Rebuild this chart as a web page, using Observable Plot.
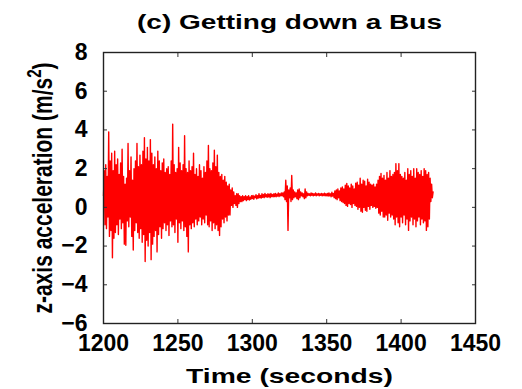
<!DOCTYPE html>
<html>
<head>
<meta charset="utf-8">
<script src="https://cdn.jsdelivr.net/npm/d3@7"></script>
<script src="https://cdn.jsdelivr.net/npm/@observablehq/plot@0.6"></script>
<style>
  html, body { margin: 0; padding: 0; background: #fff; }
  svg { font-family: "Liberation Sans", Arial, Helvetica, sans-serif; }
</style>
</head>
<body>
<script>
const titleText = "(c) Getting down a Bus";
const xLabelText = "Time (seconds)";
const yLabelMain = "z-axis acceleration (m/s";
const yLabelSup = "2";
const yLabelEnd = ")";
const xTicks = [1200, 1250, 1300, 1350, 1400, 1450];
const yTicks = [-6, -4, -2, 0, 2, 4, 6, 8];

// sampling: start time and interval (seconds)
const tStart = 1200;
const tStep = 0.5;

// z-axis acceleration samples (m/s^2)
const accel = [
  // 1200-1205
  0.6, 1.9, -0.9, 2.2, -1.1, 1.6, -0.5, 3.9, -1.5, 2.4,
  // 1205-1210
  -1.2, 2.8, -2.6, 1.9, -1.6, 2.9, -1.3, 2.2, -0.9, 2.5,
  // 1210-1215
  -1.4, 1.7, -0.6, 2.3, -1.1, 3.0, -0.8, 1.6, -1.9, 1.2,
  // 1215-1220
  -1.96, 1.5, -0.7, 3.3, -1.0, 1.9, -0.5, 2.6, -1.5, 1.4,
  // 1220-1225
  -2.2, 2.0, -1.2, 2.4, -0.8, 3.3, -1.3, 2.1, -1.6, 2.7,
  // 1225-1230
  -1.1, 2.2, -1.8, 2.9, -1.4, 3.6, -2.8, 2.5, -1.7, 3.1,
  // 1230-1235
  -2.0, 2.4, -1.3, 3.5, -2.7, 2.8, -1.9, 2.2, -1.5, 2.6,
  // 1235-1240
  -1.2, 2.0, -2.3, 2.9, -1.4, 2.4, -1.0, 1.9, -1.6, 2.3,
  // 1240-1245
  -1.1, 2.5, -0.8, 1.8, -1.2, 2.0, -0.9, 2.1, -1.45, 1.7,
  // 1245-1250
  -0.7, 2.4, -1.0, 4.3, -0.9, 2.2, -1.3, 1.8, -0.6, 2.0,
  // 1250-1255
  -1.8, 3.1, -0.8, 2.3, -1.1, 1.9, -0.7, 2.2, -1.2, 3.7,
  // 1255-1260
  -1.0, 2.0, -1.5, 1.8, -2.3, 2.4, -0.9, 1.9, -1.1, 2.1,
  // 1260-1265
  -0.8, 2.8, -1.0, 1.7, -0.6, 2.0, -0.9, 1.6, -0.7, 2.2,
  // 1265-1270
  -0.5, 1.9, -0.9, 1.5, -0.6, 2.1, -0.8, 1.8, -0.4, 2.4,
  // 1270-1275
  -0.9, 3.2, -1.0, 2.0, -0.7, 1.9, -1.2, 2.3, -0.8, 2.95,
  // 1275-1280
  -1.1, 2.1, -0.9, 2.7, -1.2, 1.8, -1.45, 1.6, -1.0, 1.7,
  // 1280-1285
  -0.6, 1.4, -0.8, 1.6, -0.5, 1.3, -0.7, 1.1, -0.4, 1.2,
  // 1285-1290
  -0.4, 0.9, 0.1, 1.0, 0.0, 0.8, 0.2, 0.6, 0.1, 0.7,
  // 1290-1295
  0.0, 0.7, 0.2, 0.6, 0.3, 0.55, 0.3, 0.6, 0.35, 0.55,
  // 1295-1300
  0.4, 0.6, 0.35, 0.55, 0.4, 0.6, 0.38, 0.52, 0.42, 0.6,
  // 1300-1305
  0.45, 0.62, 0.42, 0.58, 0.5, 0.65, 0.44, 0.6, 0.48, 0.7,
  // 1305-1310
  0.5, 0.62, 0.48, 0.7, 0.52, 0.66, 0.5, 0.72, 0.55, 0.65,
  // 1310-1315
  0.52, 0.7, 0.55, 0.68, 0.5, 0.72, 0.56, 0.66, 0.54, 0.7,
  // 1315-1320
  0.56, 0.72, 0.55, 0.68, 0.58, 0.74, 0.56, 0.7, 0.6, 0.75,
  // 1320-1325
  0.6, 0.75, 0.55, 0.8, 0.4, 1.4, 0.3, 1.1, -1.19, 0.9,
  // 1325-1330
  0.5, 1.0, 0.3, 1.65, 0.4, 0.9, 0.5, 0.8, 0.55, 0.75,
  // 1330-1335
  0.45, 0.9, 0.4, 0.95, 0.5, 0.8, 0.6, 0.75, 0.55, 0.7,
  // 1335-1340
  0.45, 0.95, 0.5, 0.8, 0.6, 0.72, 0.62, 0.7, 0.6, 0.74,
  // 1340-1345
  0.62, 0.72, 0.6, 0.7, 0.62, 0.74, 0.6, 0.7, 0.63, 0.72,
  // 1345-1350
  0.6, 0.7, 0.62, 0.72, 0.6, 0.7, 0.61, 0.73, 0.6, 0.7,
  // 1350-1355
  0.6, 0.72, 0.58, 0.75, 0.6, 0.7, 0.55, 0.78, 0.58, 0.72,
  // 1355-1360
  0.5, 0.85, 0.45, 0.9, 0.4, 0.95, 0.5, 0.85, 0.35, 1.0,
  // 1360-1365
  0.3, 1.05, 0.25, 0.95, 0.2, 1.15, 0.1, 1.24, 0.05, 1.1,
  // 1365-1370
  0.2, 1.0, 0.15, 1.2, 0.0, 1.1, 0.2, 0.95, 0.1, 1.25,
  // 1370-1375
  0.05, 1.3, -0.1, 1.15, 0.0, 1.5, -0.2, 1.2, -0.25, 1.4,
  // 1375-1380
  0.0, 1.35, -0.15, 1.1, -0.2, 1.45, 0.05, 1.3, -0.1, 1.2,
  // 1380-1385
  0.1, 1.15, 0.0, 1.2, 0.05, 1.05, -0.05, 1.2, 0.0, 1.4,
  // 1385-1390
  -0.3, 1.6, -0.4, 1.75, -0.2, 1.5, -0.5, 1.65, -0.5, 1.4,
  // 1390-1395
  -0.4, 1.8, -0.67, 1.5, -0.3, 1.9, -0.5, 1.6, -0.4, 1.7,
  // 1395-1400
  -0.6, 1.8, -0.9, 2.26, -0.5, 1.9, -0.8, 2.26, -1.0, 1.7,
  // 1400-1405
  -0.5, 1.6, -0.8, 1.5, -0.4, 1.8, -0.9, 1.4, -0.6, 2.0,
  // 1405-1410
  -1.19, 1.7, -0.7, 1.9, -0.5, 1.6, -0.9, 2.0, -0.6, 1.5,
  // 1410-1415
  -1.0, 2.0, -0.7, 1.8, -0.5, 1.7, -0.9, 1.9, -0.6, 1.6,
  // 1415-1420
  -0.8, 2.0, -0.7, 1.9, -1.19, 1.7, -1.0, 1.8, -0.6, 1.5,
  // 1420-1421.5
  0.3, 1.2, 0.5, 0.8
];

const series = accel.map((v, i) => ({t: tStart + i * tStep, v}));

const font = "Liberation Sans, Arial, Helvetica, sans-serif";

const chart = Plot.plot({
  width: 522,
  height: 389,
  marginLeft: 103,
  marginRight: 47,
  marginTop: 52,
  marginBottom: 66,
  style: {fontFamily: font, background: "#fff", overflow: "visible"},
  x: {domain: [1200, 1450], label: null},
  y: {domain: [-6, 8], label: null},
  marks: [
    Plot.lineY(series, {x: "t", y: "v", stroke: "#ff0000", strokeWidth: 1.4}),
    // tick labels
    Plot.axisX({ticks: xTicks, tickSize: 0, tickPadding: 11, fontSize: 23, fontWeight: "bold", fill: "#000", label: null, tickFormat: d => String(d)}),
    Plot.axisY({ticks: yTicks, tickSize: 0, tickPadding: 16, fontSize: 23, fontWeight: "bold", fill: "#000", label: null}),
    // inward tick marks on all four sides
    Plot.axisX({ticks: xTicks, anchor: "bottom", tickSize: 4, dy: -4, text: null, label: null, stroke: "#333"}),
    Plot.axisX({ticks: xTicks, anchor: "top", tickSize: 4, dy: 4, text: null, label: null, stroke: "#333"}),
    Plot.axisY({ticks: yTicks, anchor: "left", tickSize: 4, dx: 4, text: null, label: null, stroke: "#333"}),
    Plot.axisY({ticks: yTicks, anchor: "right", tickSize: 4, dx: -4, text: null, label: null, stroke: "#333"}),
    Plot.frame({stroke: "#222", strokeWidth: 1.4}),
    // title and axis labels
    Plot.text([titleText], {frameAnchor: "top", dy: -24, lineAnchor: "bottom", textAnchor: "middle", fontSize: 21, fontWeight: "bold", fill: "#000", className: "ttl"}),
    Plot.text([xLabelText], {frameAnchor: "bottom", dy: 59, lineAnchor: "bottom", textAnchor: "middle", fontSize: 21, fontWeight: "bold", fill: "#000", className: "xlab"}),
    Plot.text([yLabelMain], {frameAnchor: "left", dx: -52, rotate: -90, lineAnchor: "bottom", textAnchor: "middle", fontSize: 21, fontWeight: "bold", fill: "#000", className: "ylab"})
  ]
});

document.body.append(chart);

const svg = d3.select(chart);
svg.selectAll(".ttl text").attr("textLength", 305).attr("lengthAdjust", "spacingAndGlyphs");
svg.selectAll(".xlab text").attr("textLength", 207).attr("lengthAdjust", "spacingAndGlyphs");

// y label: superscript and horizontal stretch like the reference
svg.selectAll(".ylab text").each(function() {
  const t = d3.select(this);
  t.text(null);
  t.append("tspan").text(yLabelMain);
  t.append("tspan").attr("dy", "-0.55em").attr("font-size", "0.72em").text(yLabelSup);
  t.append("tspan").attr("dy", "0.4em").text(yLabelEnd);
  const tr = t.attr("transform") || "";
  t.attr("transform", tr + " scale(1,1.3)");
});
</script>
</body>
</html>
